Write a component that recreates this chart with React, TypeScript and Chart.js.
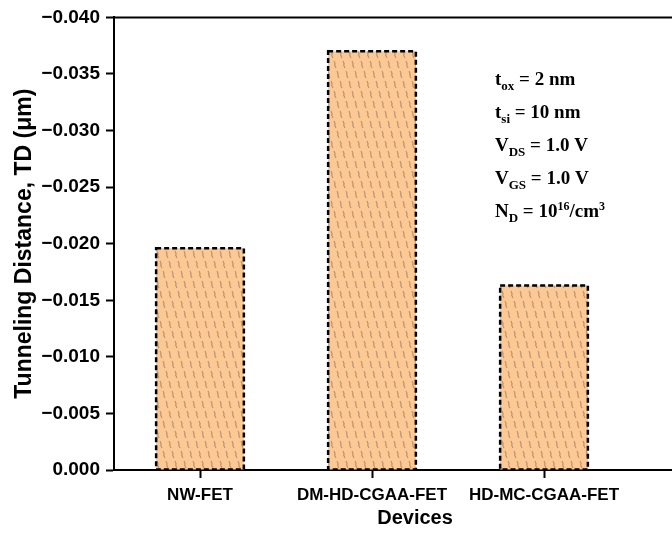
import { useEffect, useRef } from 'react';
import { Chart, registerables } from 'chart.js';

Chart.register(...registerables);

// Devices compared and their tunneling distance (µm)
const devices = ['NW-FET', 'DM-HD-CGAA-FET', 'HD-MC-CGAA-FET'];
const tunnelingDistance = [-0.0196, -0.037, -0.0163];

// Value axis range
const yMin = -0.04;
const yMax = 0;
const yStep = 0.005;

// Simulation conditions shown inside the plot: [text, 'sub' | 'sup' | '']
const conditions: [string, string][][] = [
  [['t', ''], ['ox', 'sub'], [' = 2 nm', '']],
  [['t', ''], ['si', 'sub'], [' = 10 nm', '']],
  [['V', ''], ['DS', 'sub'], [' = 1.0 V', '']],
  [['V', ''], ['GS', 'sub'], [' = 1.0 V', '']],
  [['N', ''], ['D', 'sub'], [' = 10', ''], ['16', 'sup'], ['/cm', ''], ['3', 'sup']],
];

const SANS = '"Liberation Sans", Arial, sans-serif';
const SERIF = '"Liberation Serif", "Times New Roman", serif';

// Orange fill with small slanted marks running along diagonals
function makeHatch(): CanvasPattern | string {
  const tile = document.createElement('canvas');
  tile.width = 9;
  tile.height = 30;
  const c = tile.getContext('2d');
  if (!c) return 'rgb(252,200,148)';
  c.fillStyle = 'rgb(252,200,148)';
  c.fillRect(0, 0, 9, 30);
  c.strokeStyle = 'rgba(140,110,90,0.6)';
  c.lineWidth = 1.1;
  for (let k = 0; k < 3; k++) {
    for (const dx of [-9, 0, 9]) {
      const ox = 1 + k * 3 + dx;
      const oy = k * 10 + 1;
      c.beginPath();
      c.moveTo(ox, oy);
      c.lineTo(ox + 1.2, oy + 3);
      c.lineTo(ox + 0.6, oy + 4);
      c.lineTo(ox + 2, oy + 7);
      c.stroke();
    }
  }
  const p = c.createPattern(tile, 'repeat');
  return p ?? 'rgb(252,200,148)';
}

// Dashed outline around each bar
const dashedBorder = {
  id: 'dashedBorder',
  afterDatasetsDraw(chart: any) {
    const { ctx } = chart;
    const meta = chart.getDatasetMeta(0);
    ctx.save();
    ctx.strokeStyle = '#000';
    ctx.lineWidth = 2.5;
    ctx.setLineDash([5, 3]);
    meta.data.forEach((bar: any) => {
      const { x, y, base, width } = bar.getProps(['x', 'y', 'base', 'width'], true);
      ctx.strokeRect(x - width / 2, Math.min(y, base), width, Math.abs(base - y));
    });
    ctx.restore();
  },
};

// Top frame line and the condition notes
const frameAndNotes = {
  id: 'frameAndNotes',
  afterDraw(chart: any) {
    const { ctx, chartArea } = chart;
    ctx.save();
    ctx.strokeStyle = '#000';
    ctx.lineWidth = 2;
    ctx.beginPath();
    ctx.moveTo(chartArea.left - 1, chartArea.top);
    ctx.lineTo(chartArea.right, chartArea.top);
    ctx.stroke();

    ctx.fillStyle = '#000';
    ctx.textBaseline = 'alphabetic';
    ctx.textAlign = 'left';
    const x0 = chartArea.left + 381;
    conditions.forEach((line, i) => {
      let x = x0;
      const yb = chartArea.top + 68 + i * 33;
      line.forEach(([text, kind]) => {
        if (kind === 'sub') {
          ctx.font = `bold 13px ${SERIF}`;
          ctx.fillText(text, x, yb + 5);
        } else if (kind === 'sup') {
          ctx.font = `bold 12px ${SERIF}`;
          ctx.fillText(text, x, yb - 7);
        } else {
          ctx.font = `bold 19px ${SERIF}`;
          ctx.fillText(text, x, yb);
        }
        x += ctx.measureText(text).width;
      });
    });
    ctx.restore();
  },
};

export default function App() {
  const ref = useRef<HTMLCanvasElement | null>(null);

  useEffect(() => {
    if (!ref.current) return;
    const chart = new Chart(ref.current, {
      type: 'bar',
      data: {
        datasets: [
          {
            data: devices.map((_, i) => ({ x: i + 1, y: tunnelingDistance[i] })),
            backgroundColor: makeHatch() as any,
            borderWidth: 0,
            categoryPercentage: 1,
            barPercentage: 0.51,
          },
        ],
      },
      options: {
        responsive: false,
        animation: false,
        devicePixelRatio: 1,
        layout: { padding: { top: 15, left: 0, right: 0, bottom: 0 } },
        plugins: { legend: { display: false }, tooltip: { enabled: false } },
        scales: {
          x: {
            type: 'linear',
            min: 0.5,
            max: 4,
            offset: false,
            afterBuildTicks: (s: any) => {
              s.ticks = devices.map((_, i) => ({ value: i + 1 }));
            },
            afterFit: (s: any) => {
              s.height = 63;
            },
            grid: {
              offset: false,
              drawOnChartArea: false,
              drawTicks: true,
              tickLength: 8,
              tickWidth: 2,
              tickColor: '#000',
            },
            border: { display: true, color: '#000', width: 2 },
            ticks: {
              autoSkip: false,
              maxRotation: 0,
              padding: 7,
              color: '#000',
              font: { family: SANS, size: 17, weight: 'bold' },
              callback: (v: any) => devices[Math.round(Number(v)) - 1] ?? '',
            },
            title: {
              display: true,
              text: 'Devices',
              color: '#000',
              font: { family: SANS, size: 20, weight: 'bold' },
              padding: { top: 0, bottom: 3 },
            },
          },
          y: {
            type: 'linear',
            min: yMin,
            max: yMax,
            reverse: true,
            afterFit: (s: any) => {
              s.width = 114;
            },
            grid: {
              drawOnChartArea: false,
              drawTicks: true,
              tickLength: 8,
              tickWidth: 2,
              tickColor: '#000',
            },
            border: { display: true, color: '#000', width: 2 },
            ticks: {
              stepSize: yStep,
              padding: 6,
              color: '#000',
              font: { family: SANS, size: 19, weight: 'bold' },
              callback: (v: any) => {
                const n = Number(v);
                const s = Math.abs(n).toFixed(3);
                return Math.abs(n) < 1e-9 ? '0.000' : '\u2212' + s;
              },
            },
            title: {
              display: true,
              text: 'Tunneling Distance, TD (\u03bcm)',
              color: '#000',
              font: { family: SANS, size: 23, weight: 'bold' },
              padding: { top: 11, bottom: 0 },
            },
          },
        },
      },
      plugins: [dashedBorder, frameAndNotes],
    });
    return () => chart.destroy();
  }, []);

  return (
    <div
      style={{
        position: 'fixed',
        left: 0,
        top: 0,
        width: 672,
        height: 533,
        overflow: 'hidden',
        background: '#fff',
      }}
    >
      <canvas ref={ref} width={716} height={533} style={{ display: 'block' }} />
    </div>
  );
}
